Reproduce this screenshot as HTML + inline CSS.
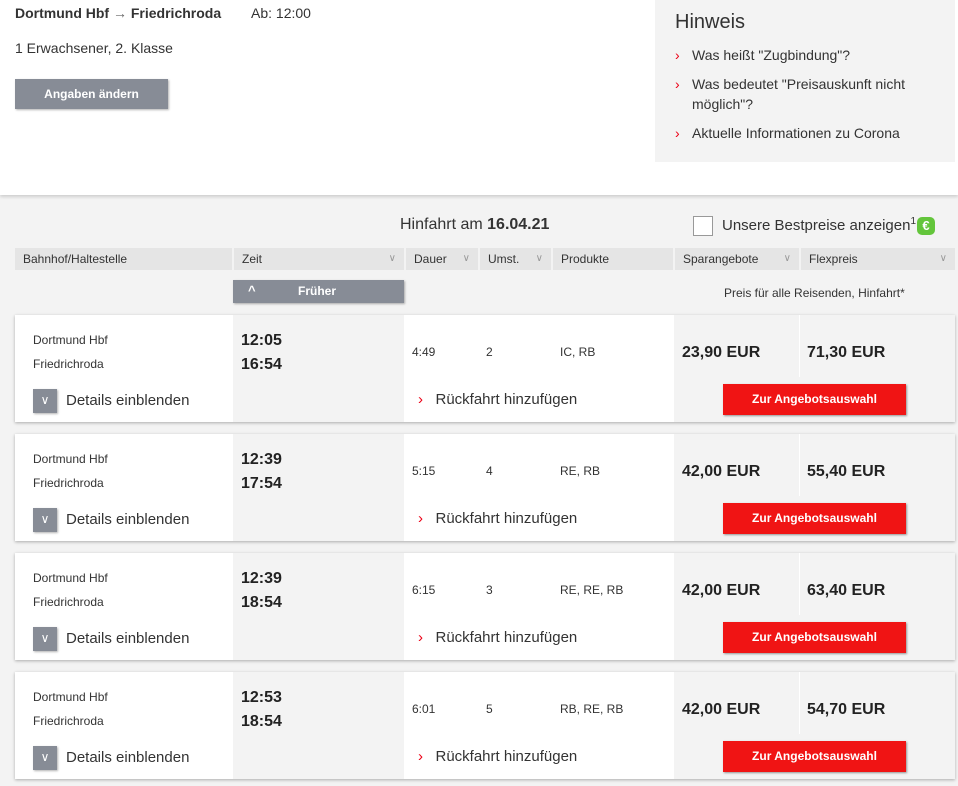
<!DOCTYPE html>
<html><head><meta charset="utf-8"><style>
*{margin:0;padding:0;box-sizing:border-box}
body{width:958px;height:786px;overflow:hidden;background:#f3f3f3;font-family:"Liberation Sans",sans-serif;color:#333;position:relative}
.a{position:absolute}
.top{left:0;top:0;width:958px;height:195px;background:#fff;box-shadow:0 2px 3px rgba(0,0,0,.15)}
.hdr{top:248px;height:22px;background:#e5e5e5;font-size:12px;line-height:22px;padding-left:8px;color:#333}
.chev{position:absolute;right:8px;top:0;color:#999;font-size:10px}
.card{left:15px;width:940px;height:107px;background:#fff;box-shadow:0 1px 3px rgba(0,0,0,.3)}
.card .g{position:absolute;top:0;height:107px;background:#f3f3f3}
.sm{font-size:12px}
.tm{font-size:16px;font-weight:bold;color:#222}
.pr{font-size:16px;font-weight:bold;color:#222}
.btn{background:#f01414;color:#fff;font-size:12px;font-weight:bold;text-align:center;line-height:30px;box-shadow:1px 1px 2px rgba(0,0,0,.4)}
.dbox{width:24px;height:24px;background:#878c96;color:#fff;text-align:center;line-height:22px;font-size:12px;box-shadow:1px 1px 2px rgba(0,0,0,.3)}
.red{color:#ec0016;position:absolute;left:0}
.hl{position:absolute;left:20px;font-size:14px;padding-left:17px;line-height:20px;width:270px}
</style></head><body>
<div class="a top"></div>
<div class="a" style="left:15px;top:5px;font-size:14px;font-weight:bold">Dortmund Hbf <span style="font-weight:normal;color:#666">→</span> Friedrichroda <span style="font-weight:normal;margin-left:26px">Ab: 12:00</span></div>
<div class="a" style="left:15px;top:40px;font-size:14px">1 Erwachsener, 2. Klasse</div>
<div class="a" style="left:15px;top:79px;width:153px;height:30px;background:#878c96;color:#fff;font-size:12px;font-weight:bold;text-align:center;line-height:30px;box-shadow:1px 1px 2px rgba(0,0,0,.3)">Angaben ändern</div>
<div class="a" style="left:655px;top:0;width:300px;height:162px;background:#f3f3f3">
 <div class="a" style="left:20px;top:11px;font-size:20px;color:#333">Hinweis</div>
 <div class="hl" style="top:45px"><span class="red">›</span>Was heißt "Zugbindung"?</div>
 <div class="hl" style="top:74px"><span class="red">›</span>Was bedeutet "Preisauskunft nicht möglich"?</div>
 <div class="hl" style="top:123px"><span class="red">›</span>Aktuelle Informationen zu Corona</div>
</div>
<div class="a" style="left:400px;top:216px;font-size:16px">Hinfahrt am <b>16.04.21</b></div>
<div class="a" style="left:693px;top:216px;width:20px;height:20px;border:1px solid #999;background:#fff"></div>
<div class="a" style="left:722px;top:216px;font-size:15px">Unsere Bestpreise anzeigen<sup style="font-size:10px">1</sup></div>
<div class="a" style="left:917px;top:217px;width:18px;height:18px;background:#63c53b;color:#fff;border-radius:5px;text-align:center;font-size:13px;font-weight:bold;line-height:18px">€</div>
<div class="a hdr" style="left:15px;width:217px">Bahnhof/Haltestelle</div>
<div class="a hdr" style="left:234px;width:170px">Zeit<span class="chev">∨</span></div>
<div class="a hdr" style="left:406px;width:72px">Dauer<span class="chev">∨</span></div>
<div class="a hdr" style="left:480px;width:71px">Umst.<span class="chev">∨</span></div>
<div class="a hdr" style="left:553px;width:120px">Produkte</div>
<div class="a hdr" style="left:675px;width:124px">Sparangebote<span class="chev">∨</span></div>
<div class="a hdr" style="left:801px;width:154px">Flexpreis<span class="chev">∨</span></div>
<div class="a" style="left:233px;top:280px;width:171px;height:23px;background:#878c96;color:#fff;font-size:12px;font-weight:bold;line-height:23px;box-shadow:1px 1px 2px rgba(0,0,0,.3)"><span style="position:absolute;left:15px;top:-1px;font-size:13px">^</span><span style="position:absolute;left:65px">Früher</span></div>
<div class="a" style="left:724px;top:286px;font-size:12px">Preis für alle Reisenden, Hinfahrt*</div>
<div id="list"></div>
<script>
const deps=["12:05","12:39","12:39","12:53"];
const arrs=["16:54","17:54","18:54","18:54"];
const durs=["4:49","5:15","6:15","6:01"];
const chg=["2","4","3","5"];
const prods=["IC, RB","RE, RB","RE, RE, RB","RB, RE, RB"];
const saver=["23,90 EUR","42,00 EUR","42,00 EUR","42,00 EUR"];
const flex=["71,30 EUR","55,40 EUR","63,40 EUR","54,70 EUR"];
const list=document.getElementById('list');
deps.forEach((d,i)=>{
 const c=document.createElement('div');
 c.className='a card';
 c.style.top=(315+i*119)+'px';
 
 
 c.innerHTML=`<div class="g" style="left:218px;width:171px"></div>
 <div class="g" style="left:659px;width:281px"></div>
 <div class="a" style="left:784px;top:0;width:1px;height:62px;background:#fff"></div>
 <div class="a sm" style="left:18px;top:18px">Dortmund Hbf</div>
 <div class="a sm" style="left:18px;top:42px">Friedrichroda</div>
 <div class="a tm" style="left:226px;top:17px">${d}</div>
 <div class="a tm" style="left:226px;top:41px">${arrs[i]}</div>
 <div class="a sm" style="left:397px;top:30px">${durs[i]}</div>
 <div class="a sm" style="left:471px;top:30px">${chg[i]}</div>
 <div class="a sm" style="left:545px;top:30px">${prods[i]}</div>
 <div class="a pr" style="left:667px;top:29px">${saver[i]}</div>
 <div class="a pr" style="left:792px;top:29px">${flex[i]}</div>
 <div class="a dbox" style="left:18px;top:74px">∨</div>
 <div class="a" style="left:51px;top:77px;font-size:15px">Details einblenden</div>
 <div class="a" style="left:403px;top:76px;font-size:15px"><span style="color:#ec0016">›</span>&nbsp;&nbsp; Rückfahrt hinzufügen</div>
 <div class="a btn" style="left:708px;top:69px;width:183px;height:31px">Zur Angebotsauswahl</div>`;
 list.appendChild(c);
});
</script>
</body></html>
